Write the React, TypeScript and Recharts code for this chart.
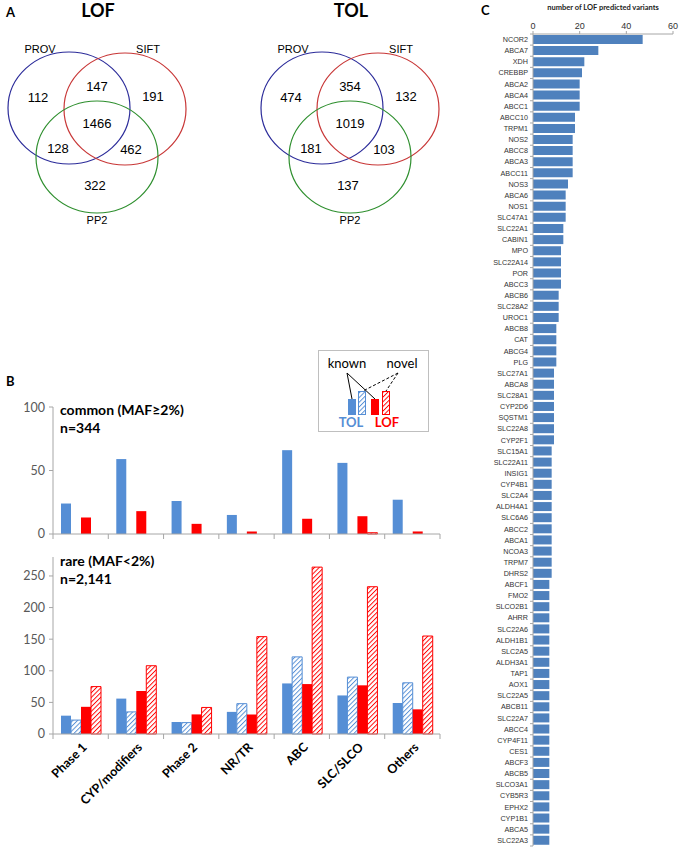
import { BarChart, Bar, XAxis, YAxis } from "recharts";

// panel A – Venn counts (PROV only, PROV∩SIFT, SIFT only, all three, PROV∩PP2, SIFT∩PP2, PP2 only)
const vennSets = ["PROV", "SIFT", "PP2"];
const lofVenn = [112, 147, 191, 1466, 128, 462, 322];
const tolVenn = [474, 354, 132, 1019, 181, 103, 137];

// panel B
const groups = ["Phase 1", "CYP/modifiers", "Phase 2", "NR/TR", "ABC", "SLC/SLCO", "Others"];
const commonTolKnown = [24, 59, 26, 15, 66, 56, 27];
const commonTolNovel = [0, 0, 0, 0, 0, 0, 0];
const commonLofKnown = [13, 18, 8, 2, 12, 14, 2];
const commonLofNovel = [0, 0, 0, 0, 0, 1, 0];
const rareTolKnown = [29, 56, 19, 35, 80, 61, 49];
const rareTolNovel = [22, 35, 18, 48, 122, 90, 81];
const rareLofKnown = [43, 68, 31, 31, 79, 77, 39];
const rareLofNovel = [75, 108, 42, 154, 264, 233, 155];
const commonTicks = [0, 50, 100];
const rareTicks = [0, 50, 100, 150, 200, 250];

// panel C
const genes = [
  "NCOR2", "ABCA7", "XDH", "CREBBP", "ABCA2", "ABCA4", "ABCC1", "ABCC10", "TRPM1", "NOS2",
  "ABCC8", "ABCA3", "ABCC11", "NOS3", "ABCA6", "NOS1", "SLC47A1", "SLC22A1", "CABIN1", "MPO",
  "SLC22A14", "POR", "ABCC3", "ABCB6", "SLC28A2", "UROC1", "ABCB8", "CAT", "ABCG4", "PLG",
  "SLC27A1", "ABCA8", "SLC28A1", "CYP2D6", "SQSTM1", "SLC22A8", "CYP2F1", "SLC15A1", "SLC22A11", "INSIG1",
  "CYP4B1", "SLC2A4", "ALDH4A1", "SLC6A6", "ABCC2", "ABCA1", "NCOA3", "TRPM7", "DHRS2", "ABCF1",
  "FMO2", "SLCO2B1", "AHRR", "SLC22A6", "ALDH1B1", "SLC2A5", "ALDH3A1", "TAP1", "AOX1", "SLC22A5",
  "ABCB11", "SLC22A7", "ABCC4", "CYP4F11", "CES1", "ABCF3", "ABCB5", "SLCO3A1", "CYB5R3", "EPHX2",
  "CYP1B1", "ABCA5", "SLC22A3",
];
const geneCounts = [
  47, 28, 22, 21, 20, 20, 20, 18, 18, 17,
  17, 17, 17, 15, 14, 14, 14, 13, 13, 12,
  12, 12, 12, 11, 11, 11, 10, 10, 10, 10,
  9, 9, 9, 9, 9, 9, 9, 8, 8, 8,
  8, 8, 8, 8, 8, 8, 8, 8, 8, 7,
  7, 7, 7, 7, 7, 7, 7, 7, 7, 7,
  7, 7, 7, 7, 7, 7, 7, 7, 7, 7,
  7, 7, 7,
];
const geneTicks = [0, 20, 40, 60];

const BLUE = "#558ed5";
const RED = "#ff0000";
const C_BLUE = "#4f81bd";
const AXIS = "#a6a6a6";
const CAL = "Lato, 'Open Sans', sans-serif";
const ARIAL = "'Liberation Sans', Arial, sans-serif";

const B_LEFT = 53;
const B_RIGHT = 440;
const B_BAND = (B_RIGHT - B_LEFT) / groups.length;
const C_TOP = 34;
const C_BOTTOM = 846;
const C_BAND = (C_BOTTOM - C_TOP) / genes.length;

const commonData = groups.map((g, i) => ({
  group: g,
  tolKnown: commonTolKnown[i],
  tolNovel: commonTolNovel[i],
  lofKnown: commonLofKnown[i],
  lofNovel: commonLofNovel[i],
}));
const rareData = groups.map((g, i) => ({
  group: g,
  tolKnown: rareTolKnown[i],
  tolNovel: rareTolNovel[i],
  lofKnown: rareLofKnown[i],
  lofNovel: rareLofNovel[i],
}));
const geneData = genes.map((g, i) => ({ gene: g, n: geneCounts[i] }));

function Hatch({ id, color }: { id: string; color: string }) {
  return (
    <pattern id={id} patternUnits="userSpaceOnUse" width="3.3" height="3.3" patternTransform="rotate(45)">
      <rect width="3.3" height="3.3" fill="#fff" />
      <line x1="0" y1="0" x2="0" y2="3.3" stroke={color} strokeWidth="1.9" />
    </pattern>
  );
}

function GroupTick(props: any) {
  const { x, y, payload, index, showLabel } = props;
  const left = x - B_BAND / 2;
  return (
    <g>
      <line x1={left} x2={left} y1={y} y2={y + 5} stroke={AXIS} />
      {index === groups.length - 1 && (
        <line x1={x + B_BAND / 2} x2={x + B_BAND / 2} y1={y} y2={y + 5} stroke={AXIS} />
      )}
      {showLabel && (
        <text
          transform={`translate(${x + 7},${y + 14}) rotate(-45)`}
          textAnchor="end"
          fontFamily={CAL}
          fontWeight={700}
          fontSize={12.5}
          fill="#000"
        >
          {payload.value}
        </text>
      )}
    </g>
  );
}

function GeneTick(props: any) {
  const { x, y, payload, index } = props;
  const ax = x + 5;
  return (
    <g>
      <line x1={ax - 3} x2={ax} y1={y - C_BAND / 2} y2={y - C_BAND / 2} stroke={AXIS} />
      {index === genes.length - 1 && (
        <line x1={ax - 3} x2={ax} y1={y + C_BAND / 2} y2={y + C_BAND / 2} stroke={AXIS} />
      )}
      <text x={x} y={y} dy="0.35em" textAnchor="end" fontFamily={ARIAL} fontSize={7.2} fill="#333">
        {payload.value}
      </text>
    </g>
  );
}

function Venn({ title, counts, dx }: { title: string; counts: number[]; dx: number }) {
  const circles = [
    { cx: 69, cy: 108, color: "#2c2c9a" },
    { cx: 125, cy: 109, color: "#c83737" },
    { cx: 97, cy: 157, color: "#2e8f2e" },
  ];
  const spots = [[38, 97], [97, 86], [153, 96], [97, 123], [58, 148], [131, 149], [95, 185]];
  const setSpots = [[40, 53], [148, 53], [97, 224]];
  return (
    <g transform={`translate(${dx},0)`}>
      <text x={98} y={17} textAnchor="middle" fontFamily={CAL} fontWeight={700} fontSize={18}>
        {title}
      </text>
      {circles.map((c, i) => (
        <ellipse key={i} cx={c.cx} cy={c.cy} rx={61} ry={56} fill="none" stroke={c.color} strokeWidth={1.2} />
      ))}
      {vennSets.map((s, i) => (
        <text key={s} x={setSpots[i][0]} y={setSpots[i][1]} textAnchor="middle" fontFamily={ARIAL} fontSize={11}>
          {s}
        </text>
      ))}
      {counts.map((n, i) => (
        <text key={i} x={spots[i][0]} y={spots[i][1]} dy="0.35em" textAnchor="middle" fontFamily={ARIAL} fontSize={13}>
          {n}
        </text>
      ))}
    </g>
  );
}

export default function App() {
  const bars = (tag: string) => [
    <Bar key="a" dataKey="tolKnown" fill={BLUE} isAnimationActive={false} />,
    <Bar key="b" dataKey="tolNovel" fill={`url(#hb${tag})`} stroke={BLUE} strokeWidth={1} isAnimationActive={false} />,
    <Bar key="c" dataKey="lofKnown" fill={RED} isAnimationActive={false} />,
    <Bar key="d" dataKey="lofNovel" fill={`url(#hr${tag})`} stroke={RED} strokeWidth={1} isAnimationActive={false} />,
  ];
  const yTick = { fontFamily: CAL, fontSize: 12.5, fill: "#595959" };

  return (
    <div style={{ position: "absolute", left: 0, top: 0, width: 680, height: 852, background: "#fff", overflow: "hidden" }}>
      {/* panel A */}
      <svg width={480} height={240} style={{ position: "absolute", left: 0, top: 0 }}>
        <text x={6} y={17} fontFamily={CAL} fontWeight={700} fontSize={13}>A</text>
        <Venn title="LOF" counts={lofVenn} dx={0} />
        <Venn title="TOL" counts={tolVenn} dx={253} />
      </svg>

      {/* panel B */}
      <div style={{ position: "absolute", left: 6, top: 373, fontFamily: CAL, fontWeight: 700, fontSize: 13 }}>B</div>

      <div style={{ position: "absolute", left: 0, top: 400 }}>
        <BarChart width={460} height={144} data={commonData} margin={{ top: 7, right: 20, bottom: 0, left: 0 }} barCategoryGap={8} barGap={0}>
          <defs>
            <Hatch id="hbc" color={BLUE} />
            <Hatch id="hrc" color={RED} />
          </defs>
          <XAxis dataKey="group" height={10} stroke={AXIS} tickLine={false} tickSize={0} tickMargin={0} interval={0} tick={(p: any) => <GroupTick {...p} showLabel={false} />} />
          <YAxis width={53} domain={[0, 100]} ticks={commonTicks} stroke={AXIS} tickSize={4} tickMargin={4} tick={yTick} />
          {bars("c")}
        </BarChart>
      </div>

      <div style={{ position: "absolute", left: 0, top: 550 }}>
        <BarChart width={460} height={284} data={rareData} margin={{ top: 7, right: 20, bottom: 0, left: 0 }} barCategoryGap={8} barGap={0}>
          <defs>
            <Hatch id="hbr" color={BLUE} />
            <Hatch id="hrr" color={RED} />
          </defs>
          <XAxis dataKey="group" height={100} stroke={AXIS} tickLine={false} tickSize={0} tickMargin={0} interval={0} tick={(p: any) => <GroupTick {...p} showLabel />} />
          <YAxis width={53} domain={[0, 280]} ticks={rareTicks} stroke={AXIS} tickSize={4} tickMargin={4} tick={yTick} />
          {bars("r")}
        </BarChart>
      </div>

      <div style={{ position: "absolute", left: 60, top: 401, fontFamily: CAL, fontWeight: 700, fontSize: 14, lineHeight: "18px", color: "#000" }}>
        common (MAF≥2%)
        <br />
        n=344
      </div>
      <div style={{ position: "absolute", left: 60, top: 552, fontFamily: CAL, fontWeight: 700, fontSize: 14, lineHeight: "18px", color: "#000" }}>
        rare (MAF&lt;2%)
        <br />
        n=2,141
      </div>

      {/* legend box */}
      <svg width={120} height={90} style={{ position: "absolute", left: 314, top: 346 }}>
        <defs>
          <Hatch id="hbl" color={BLUE} />
          <Hatch id="hrl" color={RED} />
        </defs>
        <g transform="translate(-314,-346)">
          <rect x={318.5} y={350.5} width={110} height={81} fill="#fff" stroke="#bfbfbf" />
          <text x={347} y={368} textAnchor="middle" fontFamily={CAL} fontSize={13}>known</text>
          <text x={402} y={368} textAnchor="middle" fontFamily={CAL} fontSize={13}>novel</text>
          <line x1={347} y1={373} x2={352} y2={399} stroke="#000" />
          <line x1={347} y1={373} x2={375} y2={399} stroke="#000" />
          <line x1={398} y1={373} x2={363} y2={391} stroke="#000" strokeDasharray="3 2" />
          <line x1={398} y1={373} x2={386} y2={391} stroke="#000" strokeDasharray="3 2" />
          <rect x={348} y={399} width={8} height={16} fill={BLUE} />
          <rect x={358.5} y={391.5} width={7} height={23} fill="url(#hbl)" stroke={BLUE} />
          <rect x={371} y={399} width={8} height={16} fill={RED} />
          <rect x={382.5} y={391.5} width={7} height={23} fill="url(#hrl)" stroke={RED} />
          <text x={351} y={427} textAnchor="middle" fontFamily={CAL} fontWeight={700} fontSize={13} fill={BLUE}>TOL</text>
          <text x={387} y={427} textAnchor="middle" fontFamily={CAL} fontWeight={700} fontSize={13} fill={RED}>LOF</text>
        </g>
      </svg>

      {/* panel C */}
      <div style={{ position: "absolute", left: 481, top: 2, fontFamily: CAL, fontWeight: 700, fontSize: 13 }}>C</div>
      <div style={{ position: "absolute", left: 533, width: 140, top: 3, textAlign: "center", fontFamily: CAL, fontWeight: 700, fontSize: 7.5, color: "#222" }}>
        number of LOF predicted variants
      </div>
      <div style={{ position: "absolute", left: 455, top: 0 }}>
        <BarChart width={225} height={852} data={geneData} layout="vertical" margin={{ top: 4, right: 7, bottom: 6, left: 0 }} barCategoryGap="8%">
          <XAxis type="number" orientation="top" height={30} domain={[0, 60]} ticks={geneTicks} stroke={AXIS} tickSize={3} tickMargin={2} tick={{ fontFamily: ARIAL, fontSize: 9, fill: "#333" }} />
          <YAxis type="category" dataKey="gene" width={78} stroke={AXIS} tickLine={false} tickSize={0} tickMargin={5} interval={0} tick={(p: any) => <GeneTick {...p} />} />
          <Bar dataKey="n" fill={C_BLUE} isAnimationActive={false} />
        </BarChart>
      </div>
    </div>
  );
}
